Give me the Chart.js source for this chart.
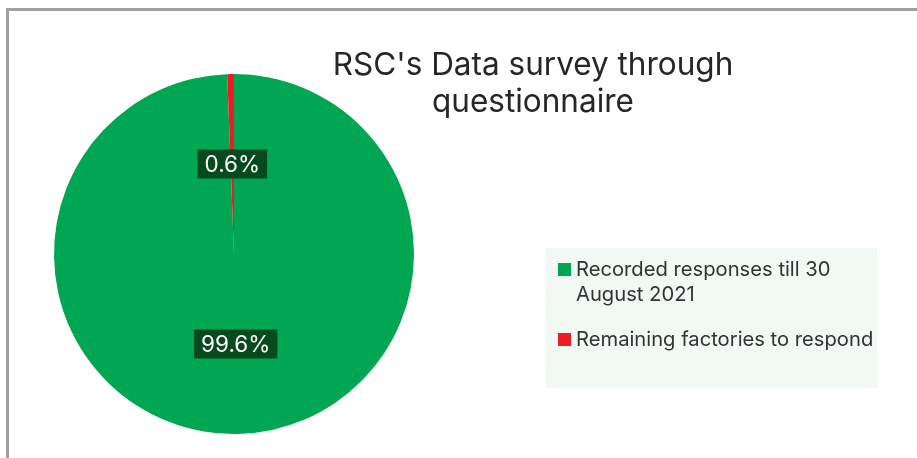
<!DOCTYPE html>
<html>
<head>
<meta charset="utf-8">
<script src="https://cdn.jsdelivr.net/npm/chart.js@4.4.1/dist/chart.umd.min.js"></script>
<style>
  html, body { margin: 0; padding: 0; background: #fff; }
  #wrap { position: relative; width: 917px; height: 458px; overflow: hidden; }
  #frame { position: absolute; left: 6px; top: 8px; width: 1000px; height: 600px;
           border-left: 3px solid #a0a0a0; border-top: 3px solid #a0a0a0; }
  #mycanvas { position: absolute; left: 0; top: 0; }
</style>
</head>
<body>
<div id="wrap">
  <div id="frame"></div>
  <canvas id="mycanvas" width="917" height="458"></canvas>
</div>
<script>
var titleLines = ["RSC's Data survey through", "questionnaire"];
var categories = ["Recorded responses till 30 August 2021", "Remaining factories to respond"];
var shares = [99.6, 0.6];
var shareLabels = ["99.6%", "0.6%"];
var colors = ["#00a651", "#ed1c24"];

var FONT = "Inter, 'Open Sans', sans-serif";

// title, legend and value boxes drawn straight on the canvas
var decorations = {
	id: "decorations",
	afterDatasetsDraw: function(chart) {
		var ctx = chart.ctx;
		var meta = chart.getDatasetMeta(0);

		// value labels in dark boxes
		ctx.save();
		ctx.font = "22.5px " + FONT;
		ctx.textAlign = "center";
		ctx.textBaseline = "middle";
		meta.data.forEach(function(arc, i) {
			var p = arc.getCenterPoint();
			var w = ctx.measureText(shareLabels[i]).width + 14;
			var h = 29;
			ctx.fillStyle = "#074a1d";
			ctx.fillRect(p.x - w / 2, p.y - h / 2, w, h);
			ctx.fillStyle = "#ffffff";
			ctx.fillText(shareLabels[i], p.x, p.y + 1);
		});
		ctx.restore();
	},
	afterDraw: function(chart) {
		var ctx = chart.ctx;
		ctx.save();

		// title
		ctx.fillStyle = "#262626";
		ctx.font = "31.5px " + FONT;
		ctx.textAlign = "center";
		ctx.textBaseline = "middle";
		for (var t = 0; t < titleLines.length; t++) {
			ctx.fillText(titleLines[t], 533, 66 + t * 37);
		}

		// legend panel
		ctx.fillStyle = "#f2f8f4";
		ctx.fillRect(546, 248, 331, 140);
		ctx.font = "20.2px " + FONT;
		ctx.textAlign = "left";
		ctx.textBaseline = "middle";
		var y = 270;
		for (var i = 0; i < categories.length; i++) {
			// wrap words to the panel width
			var words = categories[i].split(" ");
			var lines = [];
			var line = "";
			for (var k = 0; k < words.length; k++) {
				var test = line ? line + " " + words[k] : words[k];
				if (ctx.measureText(test).width > 300 && line) {
					lines.push(line);
					line = words[k];
				} else {
					line = test;
				}
			}
			lines.push(line);

			ctx.fillStyle = colors[i];
			ctx.fillRect(558, y - 7, 13, 13);
			ctx.fillStyle = "#333333";
			for (var j = 0; j < lines.length; j++) {
				ctx.fillText(lines[j], 576, y + j * 25);
			}
			y += lines.length * 25 + 20;
		}
		ctx.restore();
	}
};

var ctx = document.getElementById("mycanvas");
var pie = new Chart(ctx, {
	type: "pie",
	data: {
		labels: categories,
		datasets: [
			{
				data: shares,
				backgroundColor: colors,
				borderWidth: 0
			}
		]
	},
	options: {
		responsive: false,
		animation: false,
		layout: { padding: { left: 54, top: 74, right: 503, bottom: 24 } },
		plugins: {
			legend: { display: false },
			title: { display: false },
			tooltip: { enabled: false }
		}
	},
	plugins: [decorations]
});
</script>
</body>
</html>
